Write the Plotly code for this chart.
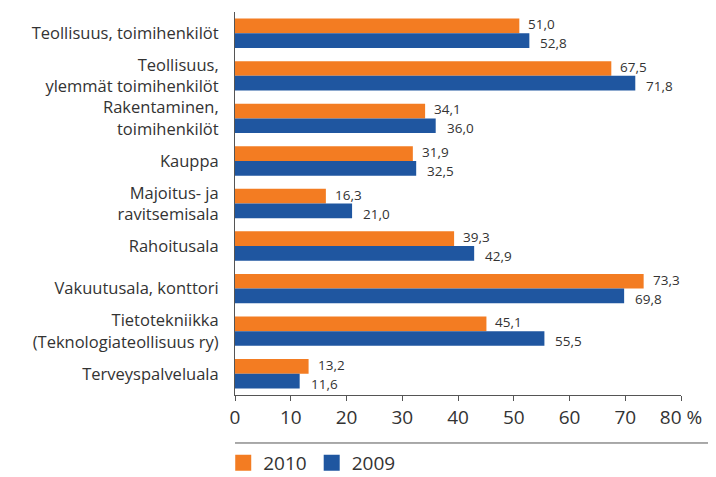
import plotly.graph_objects as go

categories = [
    "Teollisuus, toimihenkilöt",
    "Teollisuus,<br>ylemmät toimihenkilöt",
    "Rakentaminen,<br>toimihenkilöt",
    "Kauppa",
    "Majoitus- ja<br>ravitsemisala",
    "Rahoitusala",
    "Vakuutusala, konttori",
    "Tietotekniikka<br>(Teknologiateollisuus ry)",
    "Terveyspalveluala",
]
values_2010 = [51.0, 67.5, 34.1, 31.9, 16.3, 39.3, 73.3, 45.1, 13.2]
values_2009 = [52.8, 71.8, 36.0, 32.5, 21.0, 42.9, 69.8, 55.5, 11.6]
tick_vals = [0, 10, 20, 30, 40, 50, 60, 70, 80]
tick_text = ["0", "10", "20", "30", "40", "50", "60", "70", "80 %"]

ORANGE = "#F37C22"
BLUE = "#1F56A0"
TEXT = "#333333"
FONT = "Open Sans, Noto Sans, sans-serif"


def fmt(v):
    return f"{v:.1f}".replace(".", ",")


fig = go.Figure()
fig.add_trace(go.Bar(
    y=categories, x=values_2010, orientation="h", name="2010",
    marker=dict(color=ORANGE, line=dict(width=0)),
    showlegend=False, hoverinfo="x",
))
fig.add_trace(go.Bar(
    y=categories, x=values_2009, orientation="h", name="2009",
    marker=dict(color=BLUE, line=dict(width=0)),
    showlegend=False, hoverinfo="x",
))
# legend entries
for name, col in [("2010", ORANGE), ("2009", BLUE)]:
    fig.add_trace(go.Scatter(
        x=[None], y=[None], mode="markers", name=name,
        marker=dict(symbol="square", size=17, color=col),
    ))

annotations = []
for cat, v in zip(categories, values_2010):
    annotations.append(dict(
        x=v, y=cat, xref="x", yref="y", text=fmt(v), showarrow=False,
        xanchor="left", yanchor="middle", xshift=7, yshift=9,
        font=dict(size=13.5, color=TEXT, family=FONT),
    ))
for cat, v in zip(categories, values_2009):
    annotations.append(dict(
        x=v, y=cat, xref="x", yref="y", text=fmt(v), showarrow=False,
        xanchor="left", yanchor="middle", xshift=9, yshift=-10,
        font=dict(size=13.5, color=TEXT, family=FONT),
    ))

fig.update_layout(
    width=708, height=469,
    margin=dict(l=227, r=35, t=4, b=82),
    paper_bgcolor="white", plot_bgcolor="white",
    barmode="group", bargap=0.31, bargroupgap=0,
    font=dict(family=FONT, color=TEXT),
    showlegend=True,
    legend=dict(
        orientation="h", xref="container", yref="container",
        x=0.304, xanchor="left", y=0.03, yanchor="middle",
        font=dict(size=19, color=TEXT, family=FONT),
        itemwidth=30, tracegroupgap=0,
        bgcolor="rgba(0,0,0,0)",
    ),
    xaxis=dict(
        range=[0, 80], tickvals=tick_vals, ticktext=tick_text,
        showgrid=False, zeroline=False, automargin=False,
        showline=True, linecolor="#555555", linewidth=1,
        ticks="outside", ticklen=5, tickcolor="#555555",
        tickfont=dict(size=19, color=TEXT, family=FONT),
        fixedrange=True,
    ),
    yaxis=dict(
        autorange="reversed", showgrid=False, zeroline=False, automargin=False,
        showline=True, linecolor="#555555", linewidth=1,
        ticks="", ticklabelstandoff=12,
        tickfont=dict(size=16.5, color=TEXT, family=FONT),
    ),
    annotations=annotations,
    shapes=[dict(
        type="line", xref="paper", yref="paper",
        x0=0, x1=1.072, y0=-0.1253, y1=-0.1253,
        line=dict(color="#555555", width=1),
    )],
)

fig.write_html("out.html")
